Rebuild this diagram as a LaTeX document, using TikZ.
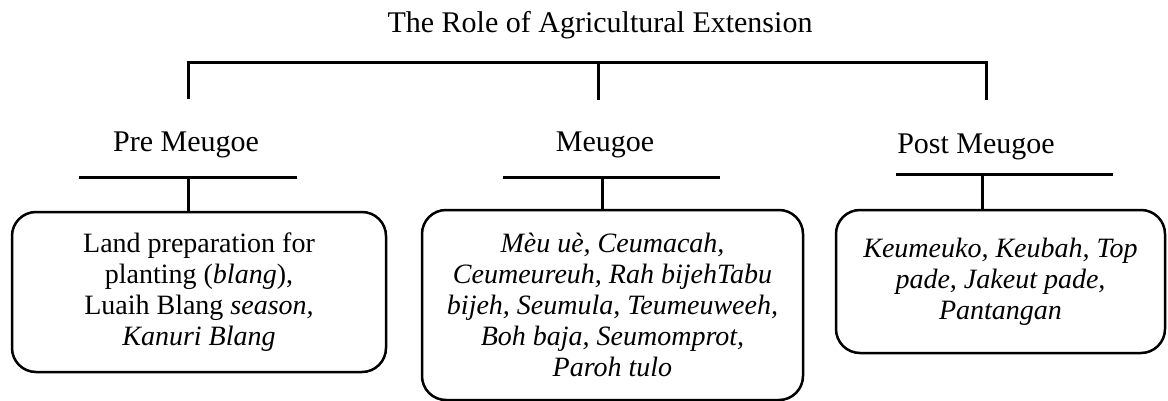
\documentclass[tikz,border=0pt]{standalone}
\usepackage{fontspec}
\setmainfont{Liberation Serif}
\usepackage{tikz}
\tikzstyle{stage}=[anchor=base,inner sep=0pt,font=\fontsize{30}{36}\selectfont]
\tikzstyle{activity}=[draw,line width=2.5pt,rounded corners=24pt,align=center,inner sep=0pt,font=\fontsize{28}{31}\selectfont]
\tikzstyle{link}=[line width=3pt]

\begin{document}
\begin{tikzpicture}[x=1pt,y=-1pt]
\useasboundingbox (0,0) rectangle (1168,401);
\node[stage] (Title) at (600,33) {The Role of Agricultural Extension};
\node[stage] (Pre) at (186,152) {Pre Meugoe};
\node[stage] (Mid) at (605,152) {Meugoe};
\node[stage] (Post) at (976,154) {Post Meugoe};
\node[activity, minimum width=374pt, minimum height=160pt] at (199,292) (PreBox) {Land preparation for\\planting (\textit{blang}),\\Luaih Blang \textit{season,}\\\textit{Kanuri Blang}};
\node[activity, minimum width=381pt, minimum height=190pt] at (612.5,305) (MidBox) {\textit{Mèu uè, Ceumacah,}\\\textit{Ceumeureuh, Rah bijehTabu}\\\textit{bijeh, Seumula, Teumeuweeh,}\\\textit{Boh baja, Seumomprot,}\\\textit{Paroh tulo}};
\node[activity, minimum width=329pt, minimum height=143pt] at (1000.5,281.5) (PostBox) {\textit{Keumeuko, Keubah, Top}\\\textit{pade, Jakeut pade,}\\\textit{Pantangan}};
\coordinate (Top) at (598,63);
\coordinate (PreUp) at (188,99);
\coordinate (MidUp) at (598,100);
\coordinate (PostUp) at (986,100);
\coordinate (PreBarL) at (79,178);
\coordinate (PreBarR) at (297,178);
\coordinate (PreBar) at (188,178);
\coordinate (MidBarL) at (503,178);
\coordinate (MidBarR) at (720,178);
\coordinate (MidBar) at (602,178);
\coordinate (PostBarL) at (896,175);
\coordinate (PostBarR) at (1113,175);
\coordinate (PostBar) at (982,175);
\draw[link] (PreUp) |- (Top) -| (PostUp);
\draw[link] (Top) -- (MidUp);
\draw[link] (PreBarL) -- (PreBarR);
\draw[link] (MidBarL) -- (MidBarR);
\draw[link] (PostBarL) -- (PostBarR);
\draw[link] (PreBar) -- (PreBar |- PreBox.north);
\draw[link] (MidBar) -- (MidBar |- MidBox.north);
\draw[link] (PostBar) -- (PostBar |- PostBox.north);
\end{tikzpicture}
\end{document}
